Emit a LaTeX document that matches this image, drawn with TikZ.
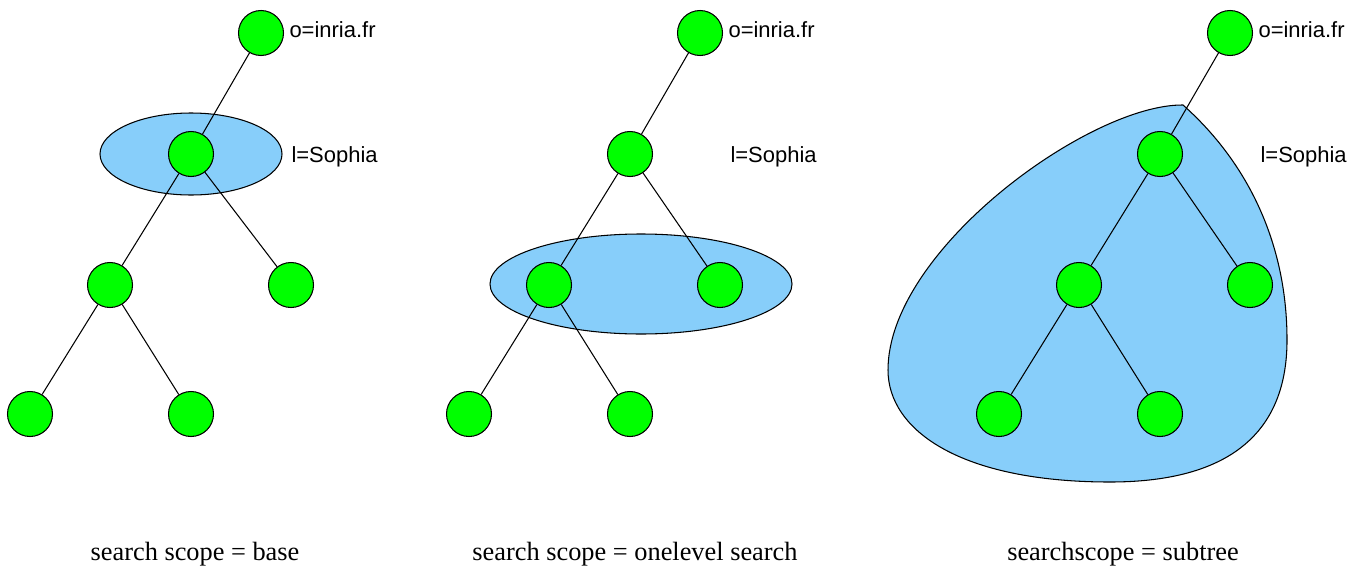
\documentclass[tikz,border=0pt]{standalone}
\usepackage{fontspec}
\setmainfont{Liberation Serif}
\newfontfamily\dnfont{Liberation Sans}
\definecolor{entrygreen}{RGB}{0,255,0}
\definecolor{scopeblue}{RGB}{135,206,250}

\begin{document}
\begin{tikzpicture}[x=0.02cm, y=-0.02cm, line width=0.6pt,
  entry/.style={circle, draw, fill=entrygreen, inner sep=0pt, minimum size=0.9cm},
  dn/.style={anchor=west, inner sep=0pt, font=\dnfont\fontsize{12.5}{14}\selectfont},
  caption/.style={anchor=base, font=\fontsize{15}{18}\selectfont},
  area/.style={draw, fill=scopeblue}]
  \useasboundingbox (0,0) rectangle (1368,568);

  % scope of each search, drawn first so the tree lies on top
  \draw[area] (191,154) ellipse [x radius=91, y radius=41];
  \draw[area] (641,284) ellipse [x radius=151, y radius=50];
  \draw[area] (1183,105) .. controls (1245,160) and (1287,240) .. (1287,340)
    .. controls (1287,440) and (1220,482) .. (1110,482)
    .. controls (960,482) and (888,430) .. (888,370)
    .. controls (888,250) and (1090,104) .. (1183,105) -- cycle;

  % the same directory tree three times
  \foreach \t/\dx/\bx in {1/0/291, 2/439/281, 3/969/281} {
    \begin{scope}[xshift=\dx*0.02cm]
      \node[entry] (o\t) at (261,33) {};
      \node[entry] (l\t) at (191,154) {};
      \node[entry] (a\t) at (110,285) {};
      \node[entry] (b\t) at (\bx,285) {};
      \node[entry] (c\t) at (30,414) {};
      \node[entry] (d\t) at (191,414) {};
      \draw (o\t) -- (l\t) (l\t) -- (a\t) (l\t) -- (b\t)
            (a\t) -- (c\t) (a\t) -- (d\t);
      \node[dn] (on\t) at (289,30) {o=inria.fr};
      \node[dn] (ln\t) at (291,157) {l=Sophia};
    \end{scope}
  }

  \node[caption] (base) at (195,560) {search scope = base};
  \node[caption] (one) at (635,560) {search scope = onelevel search};
  \node[caption] (sub) at (1123,560) {searchscope = subtree};
\end{tikzpicture}
\end{document}
